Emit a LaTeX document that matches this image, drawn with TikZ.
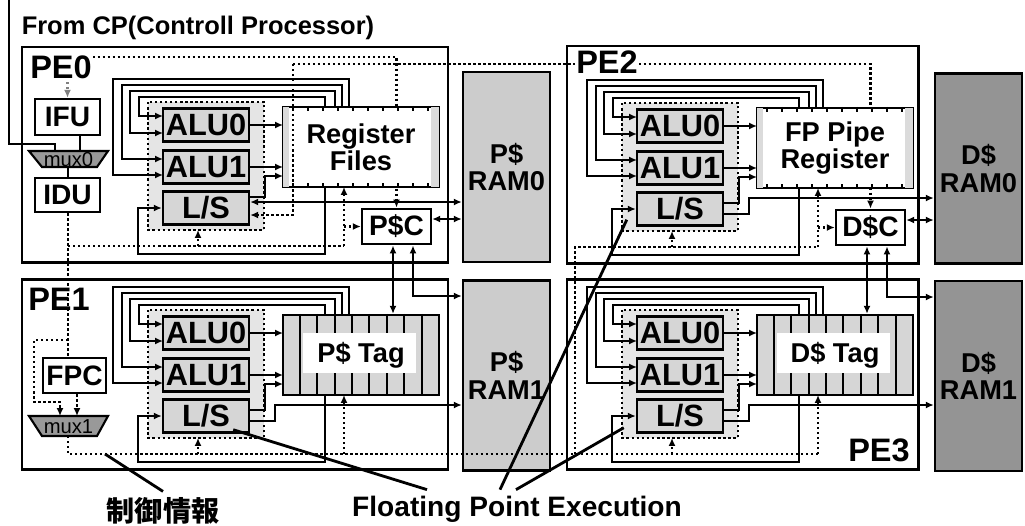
\documentclass[tikz,border=0pt]{standalone}
\usepackage{fontspec}
\setmainfont{Liberation Sans}
\newfontfamily\cjkfont{Noto Sans CJK JP}
\usetikzlibrary{arrows.meta,positioning,calc}

\tikzset{
  wire/.style={line width=1.2pt},
  ctrl/.style={line width=1.35pt,dash pattern=on 1.35pt off 1.5pt},
  pebox/.style={line width=1.7pt},
  dotbox/.style={line width=1.4pt,dash pattern=on 1.4pt off 1.5pt,fill=black!10},
  alubox/.style={draw,line width=1.4pt,fill=black!16,minimum width=1.72cm,minimum height=0.66cm,inner sep=0pt,font=\fontsize{17.5}{17.5}\selectfont\bfseries},
  ctlbox/.style={draw,line width=1.4pt,fill=white,minimum width=1.38cm,minimum height=0.71cm,inner sep=0pt,font=\fontsize{16}{16}\selectfont\bfseries},
  unitbox/.style={draw,line width=1.4pt,minimum width=3.12cm,minimum height=1.6cm,inner sep=0pt,align=center,font=\fontsize{15.5}{15.5}\selectfont\bfseries},
  rambox/.style={draw,line width=1.4pt,minimum width=1.74cm,minimum height=3.8cm,inner sep=0pt,align=center,font=\fontsize{15.5}{15.5}\selectfont\bfseries},
  pelabel/.style={inner sep=1pt,font=\fontsize{18.5}{18.5}\selectfont\bfseries},
  muxlabel/.style={inner sep=0pt,font=\fontsize{11.5}{11.5}\selectfont},
  pointer/.style={line width=1.6pt},
}

\begin{document}
\begin{tikzpicture}[x=0.02cm,y=-0.02cm,>={Latex[length=4.5pt,width=4pt]}]
\useasboundingbox (0,0) rectangle (1025,525);
\draw[pebox] (22,47) rectangle (448,262); \draw[pebox] (22,279) rectangle (448,469);
\draw[pebox] (567,46) rectangle (918,263); \draw[pebox] (567,279) rectangle (918,469);
\node[rambox,fill=black!20] (pram0) at (506.5,167) {P\$\\RAM0};
\node[rambox,fill=black!20] (pram1) at (506.5,375.5) {P\$\\RAM1};
\node[rambox,fill=black!42] (dram0) at (978.5,168.5) {D\$\\RAM0};
\node[rambox,fill=black!42] (dram1) at (978.5,376) {D\$\\RAM1};

% fetch / decode side
\node[ctlbox,minimum width=1.3cm,minimum height=0.72cm] (ifu) at (67.5,117) {IFU};
\node[ctlbox,minimum width=1.3cm,minimum height=0.68cm] (idu) at (67.5,195) {IDU};
\node[ctlbox,minimum width=1.26cm,minimum height=0.7cm] (fpc) at (74.5,375.5) {FPC};
\draw[wire,fill=black!40] (29,151) -- (108,151) -- (97,167) -- (42,167) -- cycle;
\node[muxlabel] (mux0) at (68.5,159.5) {mux0};
\draw[wire,fill=black!40] (29,416) -- (108,416) -- (97,436) -- (42,436) -- cycle;
\node[muxlabel] (mux1) at (68.5,426.5) {mux1};
\node[font=\fontsize{14.5}{14.5}\selectfont\bfseries] (cp) at (198,28) {From CP(Controll Processor)};
\coordinate (cpin) at (9,0);
\draw[wire] (cpin) |- (55,144) -- (55,151);
\draw[wire] (ifu.south -| 80,0) -- (80,151);
\draw[wire] (68,167) -- (idu.north -| 68,0);
\draw[ctrl] (idu.south -| 68,0) -- (fpc.north -| 68,0);
\draw[ctrl] (68,246) -- (344,246);
\draw[ctrl,->] (68,340) -| (34,402) -| (60,416);
\draw[ctrl,->] (fpc.south -| 77,0) -- (77,416);
\draw[ctrl] (68,436) |- (818,454);
\draw[ctrl] (575,454) |- (818,247);

\foreach \p/\X/\Y/\m in {0/163/108/P,2/637/109/D}
  \node[ctlbox] (c\p) at (\X+233.5,\Y+118.5) {\m\$C};
\draw[ctrl,draw=black!50,->] (ifu.north |- 0,57) -- (ifu.north);
\draw[ctrl,->] (ifu.north |- 0,57) -| (c0.north);
\draw[ctrl,->] (293,64) -| (c2.north);

% ALU clusters
\foreach \p/\X/\Y/\lsu in {0/163/108/89,1/163/316/94,2/637/109/94,3/637/316/94}{
  \draw[dotbox] (\X-15,\Y-6) rectangle (\X+101,\Y+122);
  \node[alubox] (a0\p) at (\X+43,\Y+17) {ALU0};
  \node[alubox] (a1\p) at (\X+43,\Y+59) {ALU1};
  \node[alubox] (ls\p) at (\X+43,\Y+100) {L/S};
  \foreach \tp/\lf/\rt/\en in {-29/-50/186/67,-23/-41/179/51,-17/-33/172/25,-11/-24/162/8}
    \draw[wire,->] (\X+\rt,\Y-1) |- (\X+\lf,\Y+\tp) |- (\X,\Y+\en);
  \draw[wire,->] (a0\p.east) -- (a0\p.east -| \X+120,0);
  \draw[wire,->] (a1\p.east) -- (a1\p.east -| \X+120,0);
  \draw[wire,->] (ls\p.east |- 0,\Y+\lsu) -| (\X+102,\Y+68) -- (\X+120,\Y+68);
  \draw[wire,->] (\X+162,\Y+79) |- (\X-25,\Y+146) |- (ls\p.west);
  \draw[ctrl,->] (\X+35,\Y+138) -- (\X+35,\Y+122);
  \draw[ctrl,->] (\X+181,\Y+138) -- (\X+181,\Y+79);
}

% register files / tags
\foreach \p/\X/\Y/\txt in {0/163/108/Register\\Files,2/637/109/FP Pipe\\Register}{
  \node[unitbox,fill=white] (u\p) at (\X+198,\Y+39) {\txt};
  \fill[black!14] ($(u\p.north east)+(-9,1.3)$) rectangle ($(u\p.south east)+(-1.3,-1.3)$);
  \fill[black!14] ($(u\p.north west)+(1.3,1.3)$) rectangle ($(u\p.south west)+(7,-1.3)$);
  \foreach \i in {1,...,10}{
    \draw[wire] ($(u\p.north west)+(\i*15-4,0)$) -- ++(0,5);
    \draw[wire] ($(u\p.south west)+(\i*15-4,0)$) -- ++(0,-5);
  }
}
\foreach \p/\X/\Y/\txt in {1/163/316/P\$ Tag,3/637/316/D\$ Tag}{
  \node[unitbox,fill=black!16] (u\p) at (\X+198,\Y+39) {};
  \foreach \sx in {18,35,53,70,87,105,122,140}
    \draw[line width=0.9pt] ($(u\p.north west)+(\sx,0)$) -- ($(u\p.south west)+(\sx,0)$);
  \fill[white] ($(u\p.north west)+(21,19)$) rectangle ($(u\p.north west)+(134,59)$);
  \node[unitbox,draw=none] (t\p) at (u\p) {\txt};
}

% caches
\foreach \p/\q/\X/\Y/\ramA/\ramB in {0/1/163/108/pram0/pram1,2/3/637/109/dram0/dram1}{
  \draw[ctrl,->] (c\p.west -| \X+181,0) -- (c\p.west);
  \draw[wire,<->] (c\p.east |- 0,\Y+111) -- (\ramA.west |- 0,\Y+111);
  \draw[wire,<->] (c\p.south -| \X+230,0) -- (u\q.north -| \X+230,0);
  \draw[wire,<->] (c\p.south -| \X+250,0) |- (\ramB.west |- 0,\Y+188);
}
\draw[wire,<->] (ls0.east |- 0,202) -- (pram0.west |- 0,202);
\foreach \p/\X/\Y/\ram in {1/163/316/pram1,2/637/109/dram0,3/637/316/dram1}
  \draw[wire,->] (ls\p.east |- 0,\Y+105) -| (\X+112,\Y+89) -- (\ram.west |- 0,\Y+89);
\draw[ctrl,->] (293,64) |- (ls0.east |- 0,215);

\node[pelabel,fill=white] (pe0) at (61,67) {PE0};
\node[pelabel] (pe1) at (59,299) {PE1};
\node[pelabel,fill=white] (pe2) at (607,62) {PE2};
\node[pelabel] (pe3) at (879,450) {PE3};

\node[font=\cjkfont\fontsize{16}{16}\selectfont\bfseries] (ctlinfo) at (163,511) {制御情報};
\node[font=\fontsize{16}{16}\selectfont\bfseries] (fpe) at (517,509) {Floating Point Execution};
\coordinate (ctlpt) at (105,454);
\draw[pointer] (ctlinfo.north) -- (ctlpt);
\draw[pointer] ($(fpe.north)+(-90,0)$) -- ($(ls1.south east)+(-17,-4)$);
\draw[pointer] ($(fpe.north)+(-17,0)$) -- ($(ls2.south west)+(-9,-7)$);
\draw[pointer] ($(fpe.north)+(-1,0)$) -- ($(ls3.south west)+(-12,-6)$);
\end{tikzpicture}
\end{document}
